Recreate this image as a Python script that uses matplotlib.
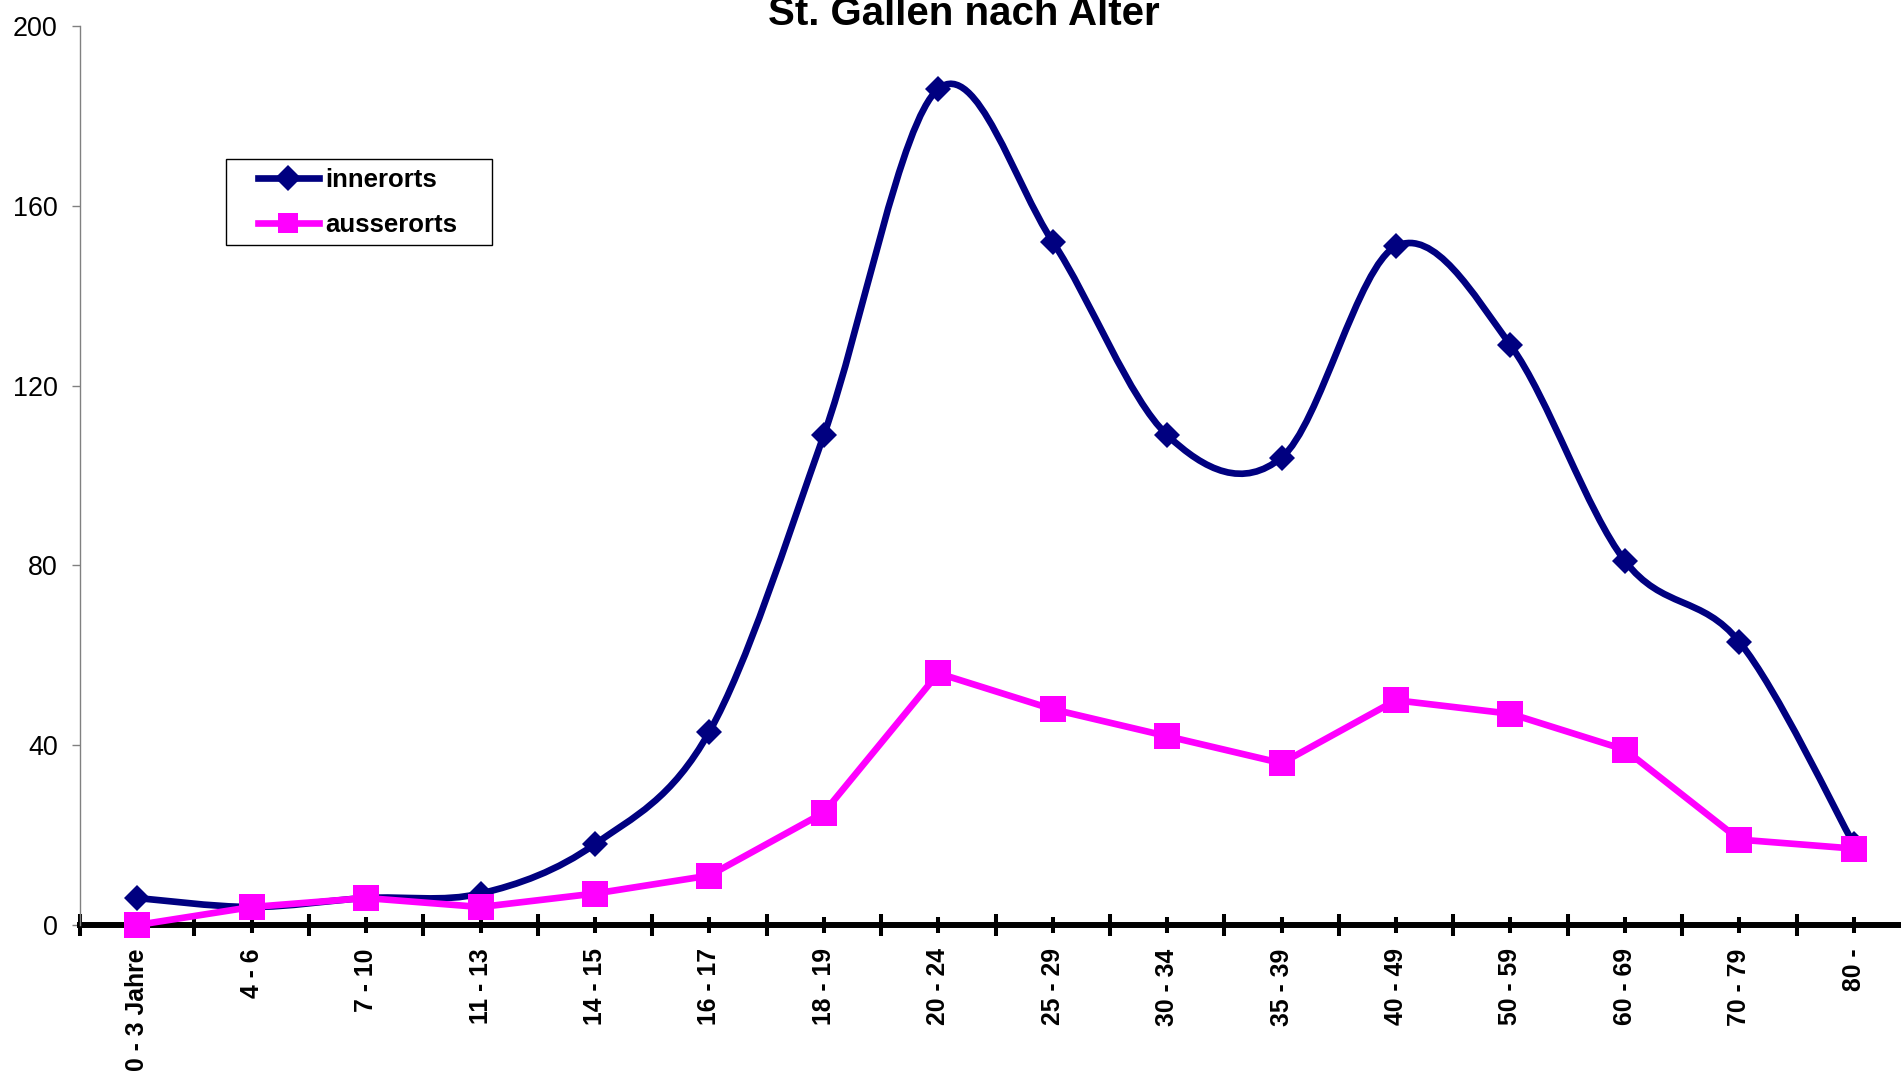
import matplotlib
matplotlib.use('Agg')
import matplotlib.pyplot as plt
import numpy as np
from matplotlib.path import Path
from matplotlib.patches import PathPatch, Rectangle
from matplotlib.lines import Line2D

plt.rcParams['font.family'] = ['Liberation Sans', 'DejaVu Sans']

categories = ['0 - 3 Jahre', '4 - 6', '7 - 10', '11 - 13', '14 - 15', '16 - 17',
              '18 - 19', '20 - 24', '25 - 29', '30 - 34', '35 - 39', '40 - 49',
              '50 - 59', '60 - 69', '70 - 79', '80 -']
innerorts = [6, 4, 6, 7, 18, 43, 109, 186, 152, 109, 104, 151, 129, 81, 63, 18]
ausserorts = [0, 4, 6, 4, 7, 11, 25, 56, 48, 42, 36, 50, 47, 39, 19, 17]

NAVY = '#000080'
MAGENTA = '#FF00FF'


def smooth_path(x, y):
    # Excel-style smoothed line (Catmull-Rom as cubic Bezier)
    pts = np.column_stack([x, y]).astype(float)
    n = len(pts)
    verts = [pts[0]]
    codes = [Path.MOVETO]
    for i in range(n - 1):
        p0 = pts[max(i - 1, 0)]
        p1 = pts[i]
        p2 = pts[i + 1]
        p3 = pts[min(i + 2, n - 1)]
        verts += [p1 + (p2 - p0) / 6, p2 - (p3 - p1) / 6, p2]
        codes += [Path.CURVE4] * 3
    return Path(verts, codes)


W, H = 1901, 1082
fig = plt.figure(figsize=(W / 100, H / 100), dpi=100)
ax = fig.add_axes([80 / W, 1 - 925 / H, 1831 / W, 899 / H])

x = np.arange(len(categories))

ax.add_patch(PathPatch(smooth_path(x, innerorts), fill=False, edgecolor=NAVY,
                       lw=4.8, capstyle='round', joinstyle='round', zorder=3,
                       clip_on=False))
ax.plot(x, innerorts, ls='none', marker='D', ms=13.7, mew=0, color=NAVY,
        zorder=4, clip_on=False)
ax.plot(x, ausserorts, color=MAGENTA, lw=4.8, marker='s', ms=19, mew=0,
        solid_joinstyle='round', zorder=5, clip_on=False)

ax.set_xlim(-0.5, len(categories) - 0.5)
ax.set_ylim(0, 200)
ax.set_yticks([0, 40, 80, 120, 160, 200])

ax.set_xticks(x)
ax.set_xticklabels(categories, rotation=90, fontweight='bold', va='top', ha='center')
ax.set_xticks(np.arange(-0.5, len(categories), 1), minor=True)

ax.tick_params(axis='x', which='major', direction='inout', length=11.5, width=2.9,
               pad=11, labelsize=17.8, color='black')
ax.tick_params(axis='x', which='minor', direction='inout', length=16, width=2.9,
               color='black')
ax.tick_params(axis='y', direction='out', length=6, width=1, color='#808080',
               labelsize=19.4, pad=10)

for s in ['top', 'right']:
    ax.spines[s].set_visible(False)
ax.spines['left'].set_color('#808080')
ax.spines['left'].set_linewidth(1)
ax.spines['bottom'].set_linewidth(4.3)
ax.spines['bottom'].set_zorder(2)

fig.text(964 / W, 1 - 25 / H, 'St. Gallen nach Alter', ha='center', va='baseline',
         fontsize=29, fontweight='bold')

# legend box
fig.patches.append(Rectangle((226 / W, 1 - 245 / H), 266 / W, 86 / H,
                             transform=fig.transFigure, fill=False,
                             edgecolor='black', lw=1))
handles = [Line2D([], [], color=NAVY, lw=4.8, marker='D', ms=13.7, mew=0),
           Line2D([], [], color=MAGENTA, lw=4.8, marker='s', ms=15, mew=0)]
fig.legend(handles, ['innerorts', 'ausserorts'], loc='upper left',
           bbox_to_anchor=(258 / W, 1 - 168 / H), frameon=False, borderpad=0,
           borderaxespad=0, handlelength=2.37, handletextpad=0.23,
           labelspacing=0.8, prop={'weight': 'bold', 'size': 18.5})

fig.savefig('out.png', dpi=100)
